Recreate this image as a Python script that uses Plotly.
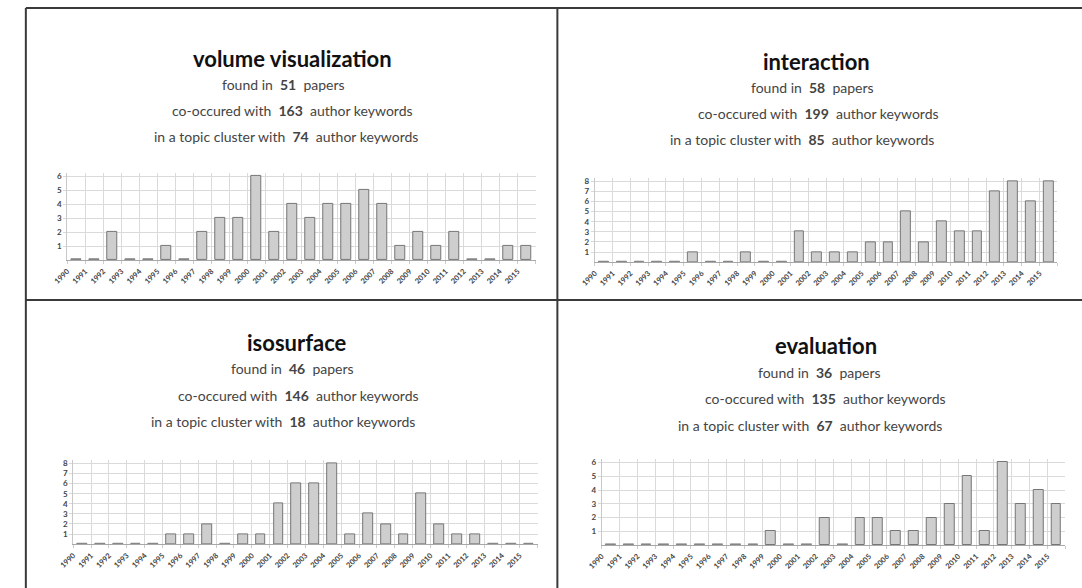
import plotly.graph_objects as go

W, H = 1082, 588

years = list(range(1990, 2016))
year_labels = [str(y) for y in years]

volume_visualization = [0, 0, 2, 0, 0, 1, 0, 2, 3, 3, 6, 2, 4, 3, 4, 4, 5, 4, 1, 2, 1, 2, 0, 0, 1, 1]
interaction = [0, 0, 0, 0, 0, 1, 0, 0, 1, 0, 0, 3, 1, 1, 1, 2, 2, 5, 2, 4, 3, 3, 7, 8, 6, 8]
isosurface = [0, 0, 0, 0, 0, 1, 1, 2, 0, 1, 1, 4, 6, 6, 8, 1, 3, 2, 1, 5, 2, 1, 1, 0, 0, 0]
evaluation = [0, 0, 0, 0, 0, 0, 0, 0, 0, 1, 0, 0, 2, 0, 2, 2, 1, 1, 2, 3, 5, 1, 6, 3, 4, 3]

titles = ["volume visualization", "interaction", "isosurface", "evaluation"]
papers = [51, 58, 46, 36]
cooccurred = [163, 199, 146, 135]
cluster = [74, 85, 18, 67]
series = [volume_visualization, interaction, isosurface, evaluation]

# panel geometry in pixels
panels = [
    dict(x0=53, x1=528, base=259, ymax=6.25, ppu=14.0,
         tx=[281, 272, 281, 275], ty=[57, 83, 109, 135]),
    dict(x0=588, x1=1057, base=261, ymax=8.3, ppu=10.125,
         tx=[813, 809, 815, 798], ty=[60, 86, 112, 138]),
    dict(x0=59, x1=530, base=544, ymax=8.3, ppu=10.125,
         tx=[286, 281, 287, 272], ty=[342, 368, 395, 421]),
    dict(x0=595, x1=1065, base=545, ymax=6.25, ppu=13.83,
         tx=[822, 816, 822, 806], ty=[345, 372, 398, 425]),
]

FONT = "Lato"
NB = "\u00a0"


def px(x):
    return x / W


def py(y):
    return 1 - y / H


fig = go.Figure()
annotations = []
layout_axes = {}

xpos = [y + 0.5 for y in years]

for i, (vals, p) in enumerate(zip(series, panels)):
    k = "" if i == 0 else str(i + 1)
    xa, ya = "x" + k, "y" + k
    zero_h = 1.0 / p["ppu"]
    fig.add_trace(go.Bar(
        x=xpos, y=vals, xaxis=xa, yaxis=ya, width=0.55,
        marker=dict(color="#cecece", line=dict(color="#767676", width=1)),
        showlegend=False, hoverinfo="x+y",
    ))
    zx = [xv for xv, v in zip(xpos, vals) if v == 0]
    fig.add_trace(go.Bar(
        x=zx, y=[zero_h] * len(zx), xaxis=xa, yaxis=ya, width=0.55,
        marker=dict(color="#888888", line=dict(color="#888888", width=0.6)),
        showlegend=False, hoverinfo="skip",
    ))
    top = p["base"] - p["ymax"] * p["ppu"]
    ymaxint = int(p["ymax"])
    layout_axes["xaxis" + k] = dict(
        domain=[px(p["x0"]), px(p["x1"])], anchor=ya,
        range=[years[0], years[-1] + 1],
        tickvals=years + [years[-1] + 1], ticktext=year_labels + [""],
        tickangle=-45, tickfont=dict(family=FONT, size=7.5, color="#444", weight="bold"),
        showgrid=True, gridcolor="#dadada", gridwidth=1,
        showline=True, linecolor="#a8a8a8", linewidth=1,
        ticks="outside", ticklen=3, tickcolor="#cccccc",
        zeroline=False, fixedrange=True,
    )
    layout_axes["yaxis" + k] = dict(
        domain=[py(p["base"]), py(top)], anchor=xa,
        range=[0, p["ymax"]],
        tickvals=list(range(1, ymaxint + 1)),
        tickfont=dict(family=FONT, size=8, color="#444", weight="bold"),
        showgrid=True, gridcolor="#dadada", gridwidth=1,
        showline=True, linecolor="#c8c8c8", linewidth=1,
        ticks="outside", ticklen=3, tickcolor="#d8d8d8",
        zeroline=False, fixedrange=True,
    )
    lines = [
        (f"<b>{titles[i]}</b>", 22, "#111"),
        (f"found in{NB}{NB}<b>{papers[i]}</b>{NB}{NB}papers", 14, "#444"),
        (f"co-occured with{NB}{NB}<b>{cooccurred[i]}</b>{NB}{NB}author keywords", 14, "#444"),
        (f"in a topic cluster with{NB}{NB}<b>{cluster[i]}</b>{NB}{NB}author keywords", 14, "#444"),
    ]
    for (txt, sz, col), tx, ty in zip(lines, p["tx"], p["ty"]):
        annotations.append(dict(
            text=txt, x=px(tx), y=py(ty), xref="paper", yref="paper",
            xanchor="center", yanchor="middle", showarrow=False,
            font=dict(family=FONT, size=sz, color=col),
        ))

border = "#3a3a3a"
shapes = [
    dict(type="line", xref="paper", yref="paper", x0=px(11), x1=px(11), y0=py(6), y1=py(588),
         line=dict(color=border, width=2)),
    dict(type="line", xref="paper", yref="paper", x0=px(11), x1=px(1082), y0=py(6), y1=py(6),
         line=dict(color=border, width=2)),
    dict(type="line", xref="paper", yref="paper", x0=px(550), x1=px(550), y0=py(6), y1=py(588),
         line=dict(color=border, width=2)),
    dict(type="line", xref="paper", yref="paper", x0=px(11), x1=px(1082), y0=py(299), y1=py(299),
         line=dict(color=border, width=2)),
]

fig.update_layout(
    width=W, height=H, autosize=False,
    margin=dict(l=0, r=0, t=0, b=0),
    paper_bgcolor="white", plot_bgcolor="white",
    barmode="overlay", bargap=0,
    annotations=annotations, shapes=shapes,
    font=dict(family=FONT),
    **layout_axes,
)

fig.write_html("out.html", config={"displayModeBar": False},
               post_script="document.body.style.margin='0px';")
